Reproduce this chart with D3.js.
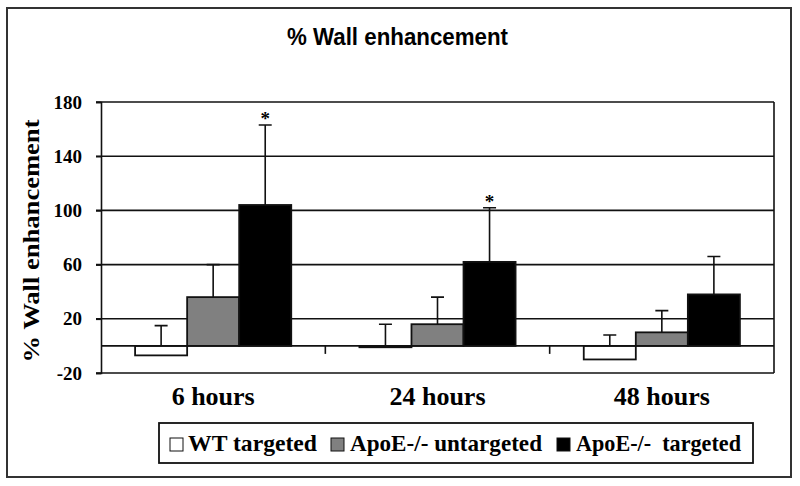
<!DOCTYPE html>
<html>
<head>
<meta charset="utf-8">
<script src="https://cdn.jsdelivr.net/npm/d3@7"></script>
<style>
  body { margin: 0; background: #fff; }
  svg { display: block; }
  .serif { font-family: 'Liberation Serif', 'Times New Roman', serif; font-weight: bold; }
</style>
</head>
<body>
<div id="chart"></div>
<script>
// categories / series
var categories = ['6 hours', '24 hours', '48 hours'];
var seriesNames = ['WT targeted', 'ApoE-/- untargeted', 'ApoE-/-\u00a0 targeted'];
var seriesColors = ['#ffffff', '#808080', '#000000'];

// mean values
var wtTargeted = [-7, -1, -10];
var apoeUntargeted = [36, 16, 10];
var apoeTargeted = [104, 62, 38];

// error (+) values
var wtTargetedErr = [22, 17, 18];
var apoeUntargetedErr = [24, 20, 16];
var apoeTargetedErr = [59, 40, 28];

// significance marks (ApoE-/- targeted)
var apoeTargetedSig = [true, true, false];

var yTicks = [-20, 20, 60, 100, 140, 180];

var width = 800, height = 486;
var plotLeft = 101, plotRight = 774, plotTop = 102, plotBottom = 373;

var svg = d3.select('#chart').append('svg')
  .attr('width', width)
  .attr('height', height);

// outer frame
svg.append('rect')
  .attr('x', 7).attr('y', 8)
  .attr('width', 784).attr('height', 469)
  .attr('fill', 'none')
  .attr('stroke', '#333')
  .attr('stroke-width', 2);

// title
svg.append('text')
  .attr('x', 287).attr('y', 45)
  .attr('textLength', 221)
  .attr('lengthAdjust', 'spacingAndGlyphs')
  .style('font-family', "'Liberation Sans', Arial, sans-serif")
  .style('font-weight', 'bold')
  .style('font-size', '23px')
  .text('% Wall enhancement');

var y = d3.scaleLinear().domain([-20, 180]).range([plotBottom, plotTop]);
var x0 = d3.scaleBand().domain(categories).range([plotLeft, plotRight]).padding(0);
var x1 = d3.scaleBand().domain(d3.range(3)).range([0, x0.bandwidth()])
  .paddingInner(0).paddingOuter(0.655);

// gridlines
svg.append('g')
  .selectAll('line')
  .data(yTicks)
  .enter()
  .append('line')
  .attr('x1', plotLeft - 5).attr('x2', plotRight)
  .attr('y1', function (d) { return y(d); })
  .attr('y2', function (d) { return y(d); })
  .attr('stroke', '#111')
  .attr('stroke-width', 1.6);

// y axis
var yAxis = svg.append('g')
  .attr('transform', 'translate(' + plotLeft + ',0)')
  .call(d3.axisLeft(y).tickValues(yTicks).tickSize(5).tickPadding(14)
    .tickFormat(function (d) { return String(d); }));
yAxis.select('.domain').attr('stroke', '#111').attr('stroke-width', 1.6);
yAxis.selectAll('.tick line').attr('stroke', '#111').attr('stroke-width', 1.6);
yAxis.selectAll('text')
  .attr('fill', '#000')
  .style('font-family', "'Liberation Serif', 'Times New Roman', serif")
  .style('font-weight', 'bold')
  .style('font-size', '19px');

// right border of plot area
svg.append('line')
  .attr('x1', plotRight).attr('x2', plotRight)
  .attr('y1', plotTop).attr('y2', plotBottom)
  .attr('stroke', '#111').attr('stroke-width', 1.6);

// y title
svg.append('text')
  .attr('class', 'serif')
  .attr('transform', 'translate(39,' + 241 + ') rotate(-90)')
  .attr('text-anchor', 'middle')
  .attr('textLength', 243)
  .attr('lengthAdjust', 'spacingAndGlyphs')
  .style('font-size', '23px')
  .text('% Wall enhancement');

// bars
var tableData = categories.map(function (c, i) {
  return {
    cat: c,
    child: [
      { s: 0, v: wtTargeted[i], e: wtTargetedErr[i], sig: false },
      { s: 1, v: apoeUntargeted[i], e: apoeUntargetedErr[i], sig: false },
      { s: 2, v: apoeTargeted[i], e: apoeTargetedErr[i], sig: apoeTargetedSig[i] }
    ]
  };
});

var groups = svg.selectAll('.barGroup')
  .data(tableData)
  .enter()
  .append('g')
  .attr('class', 'barGroup')
  .attr('transform', function (d) { return 'translate(' + x0(d.cat) + ',0)'; });

// error bars (drawn first so bars cover the part inside)
var capW = 13;
groups.selectAll('.err')
  .data(function (d) { return d.child; })
  .enter()
  .append('path')
  .attr('class', 'err')
  .attr('d', function (d) {
    var cx = x1(d.s) + x1.bandwidth() / 2;
    var y0 = y(d.v), y1 = y(d.v + d.e);
    return 'M' + cx + ',' + y0 + 'V' + y1 + 'M' + (cx - capW / 2) + ',' + y1 + 'H' + (cx + capW / 2);
  })
  .attr('stroke', '#111')
  .attr('stroke-width', 1.6)
  .attr('fill', 'none');

groups.selectAll('rect')
  .data(function (d) { return d.child; })
  .enter()
  .append('rect')
  .attr('x', function (d) { return x1(d.s); })
  .attr('width', x1.bandwidth())
  .attr('y', function (d) { return Math.min(y(d.v), y(0)); })
  .attr('height', function (d) { return Math.abs(y(d.v) - y(0)); })
  .attr('fill', function (d) { return seriesColors[d.s]; })
  .attr('stroke', '#111')
  .attr('stroke-width', 1.8);

// significance stars
groups.selectAll('.star')
  .data(function (d) { return d.child.filter(function (c) { return c.sig; }); })
  .enter()
  .append('text')
  .attr('class', 'star serif')
  .attr('x', function (d) { return x1(d.s) + x1.bandwidth() / 2; })
  .attr('y', function (d) { return y(d.v + d.e); })
  .attr('text-anchor', 'middle')
  .style('font-size', '19px')
  .text('*');

// zero (category) axis
svg.append('line')
  .attr('x1', plotLeft).attr('x2', plotRight)
  .attr('y1', y(0)).attr('y2', y(0))
  .attr('stroke', '#111').attr('stroke-width', 1.8);

svg.append('g')
  .selectAll('line')
  .data(categories.slice(1))
  .enter()
  .append('line')
  .attr('x1', function (d) { return x0(d); })
  .attr('x2', function (d) { return x0(d); })
  .attr('y1', y(0)).attr('y2', y(0) + 8)
  .attr('stroke', '#111').attr('stroke-width', 1.6);

// category labels
svg.append('g')
  .selectAll('text')
  .data(categories)
  .enter()
  .append('text')
  .attr('class', 'serif')
  .attr('x', function (d) { return x0(d) + x0.bandwidth() / 2; })
  .attr('y', 405)
  .attr('text-anchor', 'middle')
  .style('font-size', '26px')
  .text(function (d) { return d; });

// legend
var legend = svg.append('g');
legend.append('rect')
  .attr('x', 159).attr('y', 423)
  .attr('width', 594).attr('height', 40)
  .attr('fill', '#fff')
  .attr('stroke', '#111')
  .attr('stroke-width', 1.8);

var legendX = [170, 331, 557];
var legendTextLen = [129, 192, 165];
var items = legend.selectAll('.item')
  .data(seriesNames)
  .enter()
  .append('g')
  .attr('class', 'item')
  .attr('transform', function (d, i) { return 'translate(' + legendX[i] + ',0)'; });

items.append('rect')
  .attr('x', 0).attr('y', 438)
  .attr('width', 13).attr('height', 13)
  .attr('fill', function (d, i) { return seriesColors[i]; })
  .attr('stroke', '#111')
  .attr('stroke-width', 1);

items.append('text')
  .attr('class', 'serif')
  .attr('x', function (d, i) { return i === 0 ? 18 : 19; })
  .attr('y', 451)
  .attr('textLength', function (d, i) { return legendTextLen[i]; })
  .attr('lengthAdjust', 'spacingAndGlyphs')
  .style('font-size', '23px')
  .text(function (d) { return d; });
</script>
</body>
</html>
